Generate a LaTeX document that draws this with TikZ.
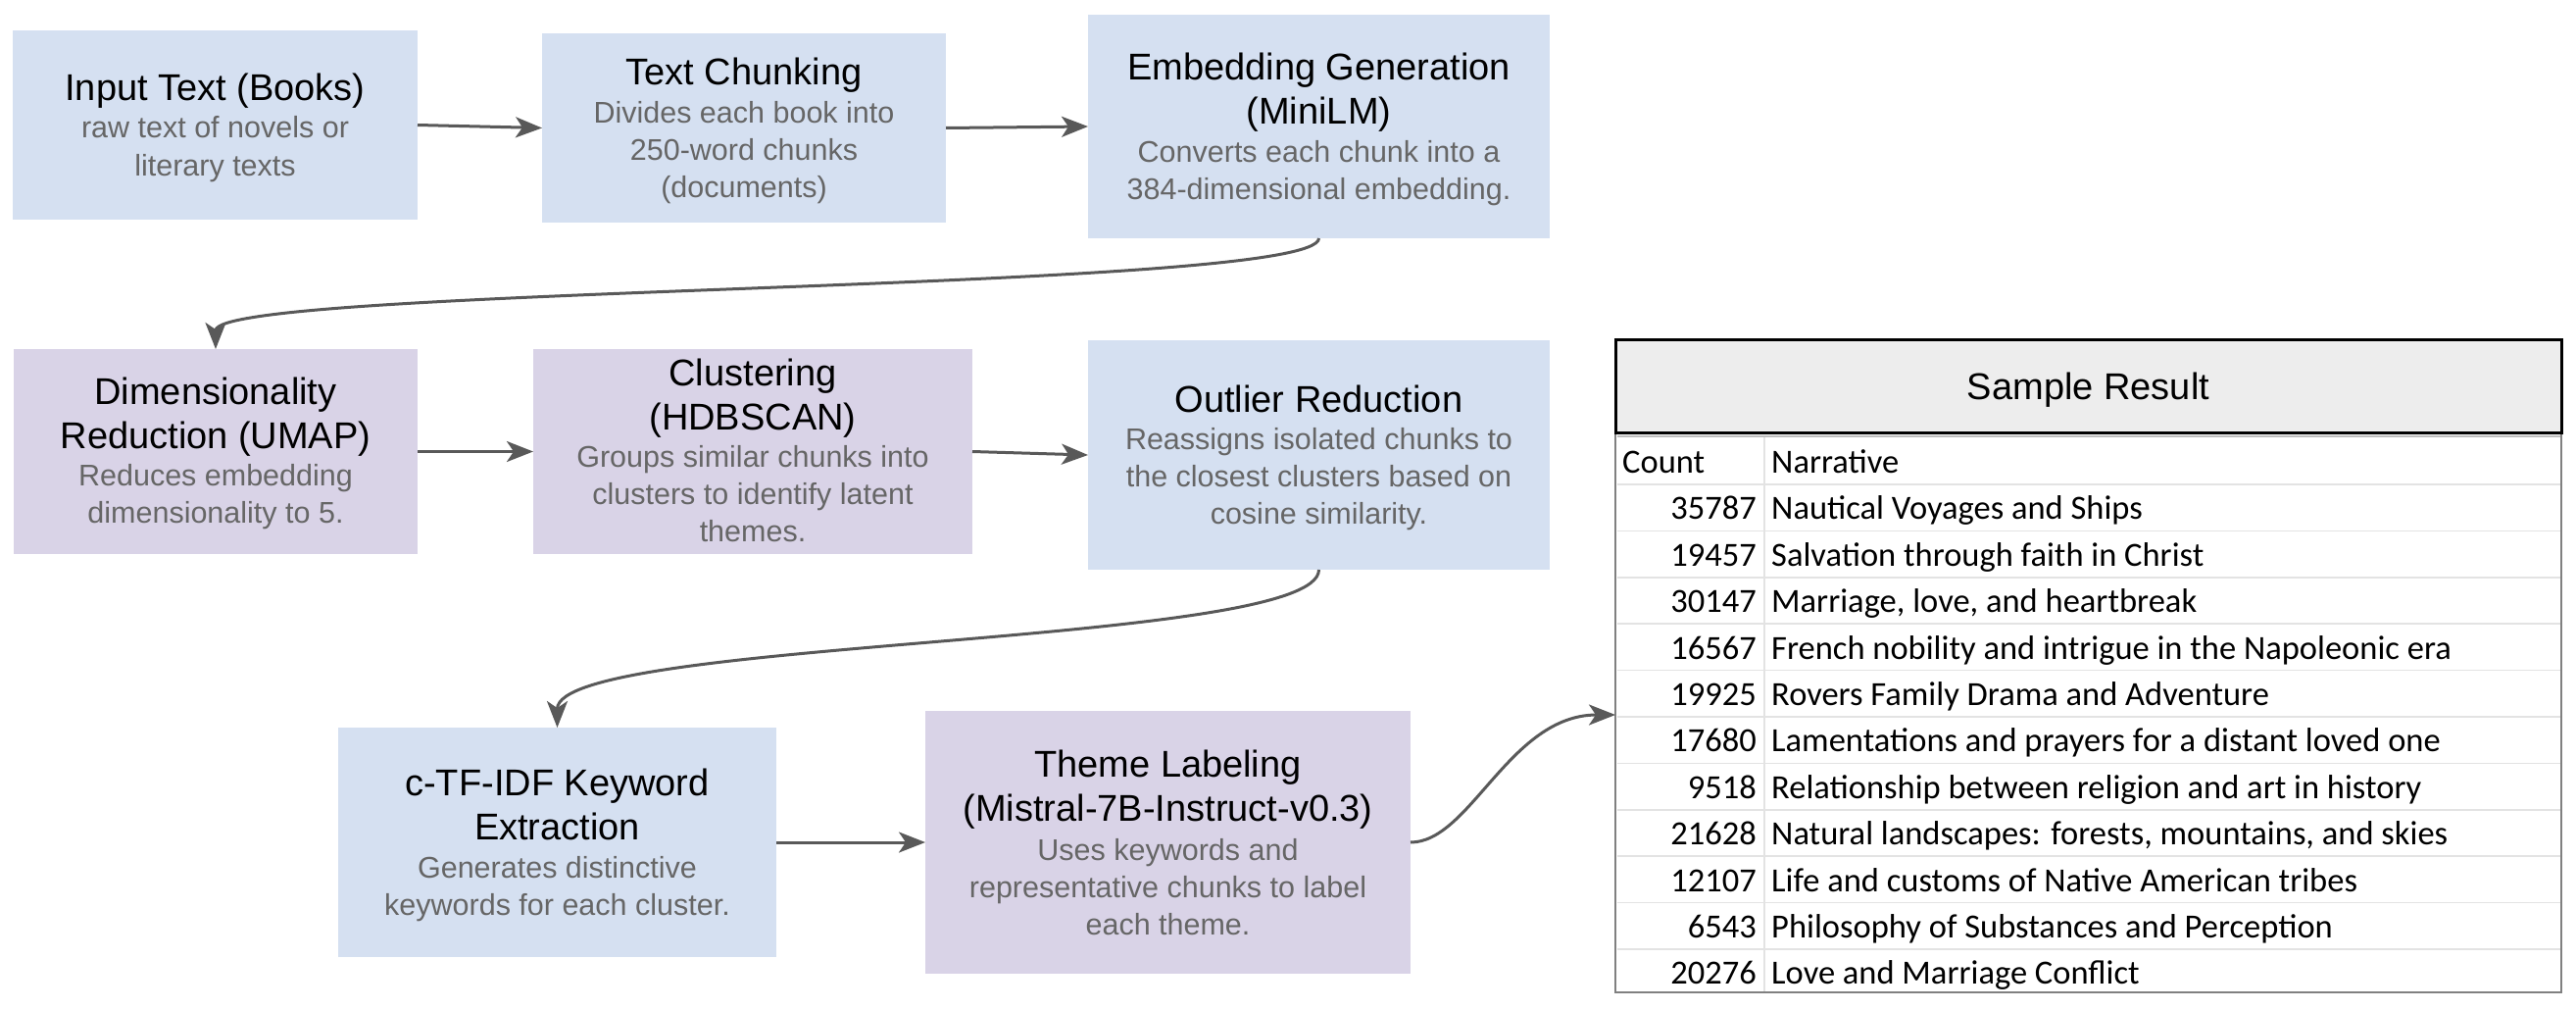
\documentclass[tikz,border=0pt]{standalone}
\usepackage{fontspec}
\setmainfont{Liberation Sans}
\newfontfamily\calfont{Carlito}
\usetikzlibrary{arrows.meta}
\definecolor{boxblue}{HTML}{D5E0F1}
\definecolor{boxpurple}{HTML}{D9D3E7}
\definecolor{subgray}{HTML}{666666}
\definecolor{arrowgray}{HTML}{595959}
\definecolor{hdrgray}{HTML}{EDEDED}
\definecolor{gridgray}{HTML}{E3E3E3}
\definecolor{framegray}{HTML}{808080}
\definecolor{sepgray}{HTML}{BDBDBD}
\begin{document}
\begin{tikzpicture}[x=1pt,y=-1pt,
  blk/.style={draw=none, inner sep=0pt, outer sep=0pt},
  blue/.style={blk, fill=boxblue},
  purple/.style={blk, fill=boxpurple},
  ttl/.style={anchor=base, inner sep=0pt, font=\fontsize{38}{44}\selectfont},
  sub/.style={anchor=base, inner sep=0pt, text=subgray, font=\fontsize{30.5}{37}\selectfont},
  arr/.style={draw=arrowgray, line width=3pt, -{Stealth[length=27pt, width=21pt, inset=7pt]}},
  cell/.style={inner sep=0pt, font=\calfont\fontsize{34.5}{40}\selectfont},
  gridline/.style={draw=gridgray, line width=1.5pt}
]
\useasboundingbox (0,0) rectangle (2628,1030);

% ---------- boxes ----------
\node[blue, minimum width=413pt, minimum height=193pt] (b1) at (219.5,127.5) {};
\node[blue, minimum width=412pt, minimum height=193pt] (b2) at (759,130.5) {};
\node[blue, minimum width=471pt, minimum height=228pt] (b3) at (1345.5,129) {};
\node[purple, minimum width=412pt, minimum height=209pt] (b4) at (220,460.5) {};
\node[purple, minimum width=448pt, minimum height=209pt] (b5) at (768,460.5) {};
\node[blue, minimum width=471pt, minimum height=234pt] (b6) at (1345.5,464) {};
\node[blue, minimum width=447pt, minimum height=234pt] (b7) at (568.5,859) {};
\node[purple, minimum width=495pt, minimum height=268pt] (b8) at (1191.5,859) {};

% ---------- box texts ----------
\node[ttl] (b1t1) at (219.5,103) {Input Text (Books)};
\node[sub] (b1s1) at (219.5,141) {raw text of novels or};
\node[sub] (b1s2) at (219.5,179) {literary texts};

\node[ttl] (b2t1) at (759,87) {Text Chunking};
\node[sub] (b2s1) at (759,125) {Divides each book into};
\node[sub] (b2s2) at (759,163) {250-word chunks};
\node[sub] (b2s3) at (759,201) {(documents)};

\node[ttl] (b3t1) at (1345.5,82) {Embedding Generation};
\node[ttl] (b3t2) at (1345.5,127) {(MiniLM)};
\node[sub] (b3s1) at (1345.5,165) {Converts each chunk into a};
\node[sub] (b3s2) at (1345.5,203) {384-dimensional embedding.};

\node[ttl] (b4t1) at (220,412.5) {Dimensionality};
\node[ttl] (b4t2) at (220,457.5) {Reduction (UMAP)};
\node[sub] (b4s1) at (220,495.5) {Reduces embedding};
\node[sub] (b4s2) at (220,533.5) {dimensionality to 5.};

\node[ttl] (b5t1) at (768,393.5) {Clustering};
\node[ttl] (b5t2) at (768,438.5) {(HDBSCAN)};
\node[sub] (b5s1) at (768,476.5) {Groups similar chunks into};
\node[sub] (b5s2) at (768,514.5) {clusters to identify latent};
\node[sub] (b5s3) at (768,552.5) {themes.};

\node[ttl] (b6t1) at (1345.5,420.5) {Outlier Reduction};
\node[sub] (b6s1) at (1345.5,458.5) {Reassigns isolated chunks to};
\node[sub] (b6s2) at (1345.5,496.5) {the closest clusters based on};
\node[sub] (b6s3) at (1345.5,534.5) {cosine similarity.};

\node[ttl] (b7t1) at (568.5,811) {c-TF-IDF Keyword};
\node[ttl] (b7t2) at (568.5,856) {Extraction};
\node[sub] (b7s1) at (568.5,895) {Generates distinctive};
\node[sub] (b7s2) at (568.5,933) {keywords for each cluster.};

\node[ttl] (b8t1) at (1191.5,792) {Theme Labeling};
\node[ttl] (b8t2) at (1191.5,837) {(Mistral-7B-Instruct-v0.3)};
\node[sub] (b8s1) at (1191.5,877) {Uses keywords and};
\node[sub] (b8s2) at (1191.5,915) {representative chunks to label};
\node[sub] (b8s3) at (1191.5,953) {each theme.};

% ---------- table ----------
\node[draw=framegray, line width=2.5pt, inner sep=0pt, minimum width=965pt, minimum height=571pt] (tbl) at (2130.5,726.5) {};
\foreach \yy in {494,541.4,588.8,636.2,683.6,731,778.4,825.8,873.2,920.6,968}
  \draw[gridline] (1649.5,\yy) -- (2611.5,\yy);
\draw[gridline] (1800,444) -- (1800,1011);
\draw[draw=sepgray, line width=2pt] (1649.5,445) -- (2611.5,445);
\node[draw=black, line width=3pt, fill=hdrgray, inner sep=0pt, minimum width=965pt, minimum height=95pt,
  text depth=0pt, font=\fontsize{38}{44}\selectfont] (hdr) at (2130.5,393.5) {Sample Result};

\node[cell, anchor=base west] (hcount) at (1655,482.5) {Count};
\node[cell, anchor=base west] (hnarr) at (1807,482.5) {Narrative};
\foreach \c/\n [count=\k] in {35787/Nautical Voyages and Ships,
  19457/Salvation through faith in Christ,
  30147/{Marriage, love, and heartbreak},
  16567/French nobility and intrigue in the Napoleonic era,
  19925/Rovers Family Drama and Adventure,
  17680/Lamentations and prayers for a distant loved one,
  9518/Relationship between religion and art in history,
  21628/{Natural landscapes: forests, mountains, and skies},
  12107/Life and customs of Native American tribes,
  6543/Philosophy of Substances and Perception,
  20276/Love and Marriage Conflict}
{
  \node[cell, anchor=base east] (cnt\k) at (1792,482.5+47.4*\k) {\c};
  \node[cell, anchor=base west] (nar\k) at (1807,482.5+47.4*\k) {\n};
}

\coordinate (tin) at (1648,729);

% ---------- connectors ----------
\draw[arr] (b1.east) -- (b2.west);
\draw[arr] (b2.east) -- (b3.west);
\draw[arr] (b3.south) .. controls (1345.5,298) and (220,291) .. (b4.north);
\draw[arr] (b4.east) -- (b5.west);
\draw[arr] (b5.east) -- (b6.west);
\draw[arr] (b6.south) .. controls (1345.5,660) and (568.5,650) .. (b7.north);
\draw[arr] (b7.east) -- (b8.west);
\draw[arr] (b8.east) .. controls (1500,859) and (1540,729) .. (tin);
\end{tikzpicture}
\end{document}
